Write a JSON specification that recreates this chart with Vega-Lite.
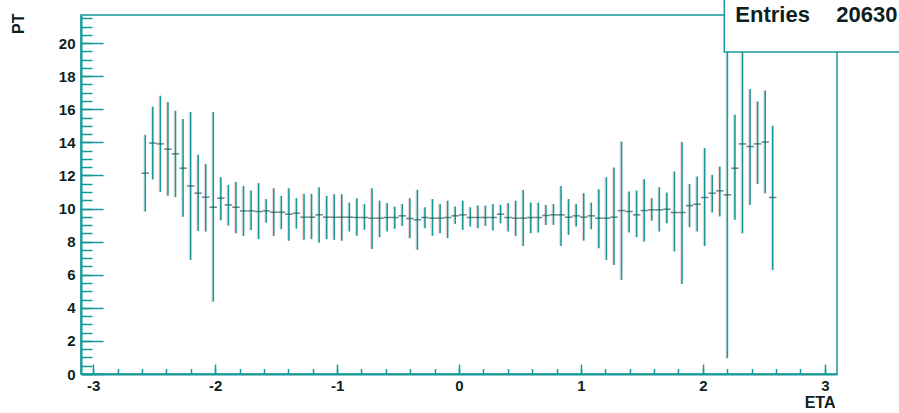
{
  "$schema": "https://vega.github.io/schema/vega-lite/v6.json",
  "width": 756,
  "height": 359,
  "autosize": {"type": "none"},
  "padding": {"left": 81, "top": 15, "right": 62, "bottom": 39},
  "background": "white",
  "config": {"view": {"stroke": "#17999a", "strokeWidth": 1.5}, "font": "Liberation Sans"},
  "datasets": {
    "profile": [
      {"eta": -2.573, "pt": 12.14, "lo": 9.82, "hi": 14.46},
      {"eta": -2.511, "pt": 13.96, "lo": 11.75, "hi": 16.15},
      {"eta": -2.449, "pt": 13.91, "lo": 11.0, "hi": 16.82},
      {"eta": -2.387, "pt": 13.59, "lo": 10.77, "hi": 16.44},
      {"eta": -2.325, "pt": 13.31, "lo": 10.69, "hi": 15.91},
      {"eta": -2.263, "pt": 12.44, "lo": 9.5, "hi": 15.41},
      {"eta": -2.201, "pt": 11.37, "lo": 6.9, "hi": 15.83},
      {"eta": -2.139, "pt": 10.93, "lo": 8.65, "hi": 13.25},
      {"eta": -2.077, "pt": 10.69, "lo": 8.61, "hi": 12.7},
      {"eta": -2.015, "pt": 10.08, "lo": 4.37, "hi": 15.83},
      {"eta": -1.953, "pt": 10.63, "lo": 9.3, "hi": 11.9},
      {"eta": -1.891, "pt": 10.22, "lo": 8.97, "hi": 11.43},
      {"eta": -1.829, "pt": 10.08, "lo": 8.51, "hi": 11.6},
      {"eta": -1.767, "pt": 9.86, "lo": 8.35, "hi": 11.37},
      {"eta": -1.705, "pt": 9.86, "lo": 8.71, "hi": 11.09},
      {"eta": -1.643, "pt": 9.82, "lo": 8.15, "hi": 11.54},
      {"eta": -1.581, "pt": 9.86, "lo": 9.15, "hi": 10.57},
      {"eta": -1.519, "pt": 9.78, "lo": 8.35, "hi": 11.23},
      {"eta": -1.457, "pt": 9.78, "lo": 8.75, "hi": 10.77},
      {"eta": -1.395, "pt": 9.66, "lo": 8.06, "hi": 11.23},
      {"eta": -1.333, "pt": 9.72, "lo": 8.79, "hi": 10.63},
      {"eta": -1.271, "pt": 9.48, "lo": 8.11, "hi": 10.89},
      {"eta": -1.209, "pt": 9.48, "lo": 8.15, "hi": 10.89},
      {"eta": -1.147, "pt": 9.62, "lo": 7.94, "hi": 11.29},
      {"eta": -1.085, "pt": 9.48, "lo": 8.15, "hi": 10.77},
      {"eta": -1.023, "pt": 9.48, "lo": 8.11, "hi": 10.87},
      {"eta": -0.961, "pt": 9.48, "lo": 8.06, "hi": 10.87},
      {"eta": -0.899, "pt": 9.48, "lo": 8.61, "hi": 10.36},
      {"eta": -0.837, "pt": 9.46, "lo": 8.35, "hi": 10.63},
      {"eta": -0.775, "pt": 9.46, "lo": 8.71, "hi": 10.28},
      {"eta": -0.713, "pt": 9.42, "lo": 7.56, "hi": 11.23},
      {"eta": -0.651, "pt": 9.42, "lo": 8.27, "hi": 10.48},
      {"eta": -0.589, "pt": 9.46, "lo": 8.61, "hi": 10.33},
      {"eta": -0.527, "pt": 9.46, "lo": 8.77, "hi": 10.12},
      {"eta": -0.465, "pt": 9.56, "lo": 8.95, "hi": 10.28},
      {"eta": -0.403, "pt": 9.4, "lo": 8.21, "hi": 10.63},
      {"eta": -0.341, "pt": 9.32, "lo": 7.5, "hi": 11.13},
      {"eta": -0.279, "pt": 9.46, "lo": 8.81, "hi": 10.08},
      {"eta": -0.217, "pt": 9.42, "lo": 8.35, "hi": 10.57},
      {"eta": -0.155, "pt": 9.42, "lo": 8.51, "hi": 10.28},
      {"eta": -0.093, "pt": 9.46, "lo": 8.21, "hi": 10.48},
      {"eta": -0.031, "pt": 9.56, "lo": 9.07, "hi": 10.12},
      {"eta": 0.031, "pt": 9.62, "lo": 8.71, "hi": 10.48},
      {"eta": 0.093, "pt": 9.46, "lo": 8.91, "hi": 10.08},
      {"eta": 0.155, "pt": 9.46, "lo": 8.81, "hi": 10.18},
      {"eta": 0.217, "pt": 9.46, "lo": 8.95, "hi": 10.18},
      {"eta": 0.279, "pt": 9.46, "lo": 8.67, "hi": 10.28},
      {"eta": 0.341, "pt": 9.66, "lo": 9.11, "hi": 10.22},
      {"eta": 0.403, "pt": 9.46, "lo": 8.61, "hi": 10.33},
      {"eta": 0.465, "pt": 9.42, "lo": 8.35, "hi": 10.48},
      {"eta": 0.527, "pt": 9.42, "lo": 7.74, "hi": 11.13},
      {"eta": 0.589, "pt": 9.46, "lo": 8.51, "hi": 10.36},
      {"eta": 0.651, "pt": 9.46, "lo": 8.55, "hi": 10.36},
      {"eta": 0.713, "pt": 9.58, "lo": 9.01, "hi": 10.22},
      {"eta": 0.775, "pt": 9.62, "lo": 9.01, "hi": 10.28},
      {"eta": 0.837, "pt": 9.62, "lo": 7.74, "hi": 11.37},
      {"eta": 0.899, "pt": 9.48, "lo": 8.41, "hi": 10.57},
      {"eta": 0.961, "pt": 9.56, "lo": 8.91, "hi": 10.28},
      {"eta": 1.023, "pt": 9.48, "lo": 8.06, "hi": 10.93},
      {"eta": 1.085, "pt": 9.56, "lo": 8.75, "hi": 10.36},
      {"eta": 1.147, "pt": 9.42, "lo": 7.6, "hi": 11.17},
      {"eta": 1.209, "pt": 9.42, "lo": 6.9, "hi": 11.9},
      {"eta": 1.271, "pt": 9.48, "lo": 6.59, "hi": 12.48},
      {"eta": 1.333, "pt": 9.88, "lo": 5.69, "hi": 14.05},
      {"eta": 1.395, "pt": 9.82, "lo": 8.55, "hi": 11.03},
      {"eta": 1.457, "pt": 9.62, "lo": 8.27, "hi": 11.09},
      {"eta": 1.519, "pt": 9.88, "lo": 8.0, "hi": 11.78},
      {"eta": 1.581, "pt": 9.92, "lo": 9.27, "hi": 10.63},
      {"eta": 1.643, "pt": 9.92, "lo": 8.61, "hi": 11.29},
      {"eta": 1.705, "pt": 9.96, "lo": 9.11, "hi": 10.97},
      {"eta": 1.767, "pt": 9.76, "lo": 7.4, "hi": 12.24},
      {"eta": 1.829, "pt": 9.76, "lo": 5.44, "hi": 14.02},
      {"eta": 1.891, "pt": 10.18, "lo": 8.87, "hi": 11.49},
      {"eta": 1.953, "pt": 10.26, "lo": 8.61, "hi": 11.94},
      {"eta": 2.015, "pt": 10.67, "lo": 7.74, "hi": 13.65},
      {"eta": 2.077, "pt": 10.93, "lo": 9.76, "hi": 12.04},
      {"eta": 2.139, "pt": 11.07, "lo": 9.52, "hi": 12.54},
      {"eta": 2.201, "pt": 10.83, "lo": 0.95, "hi": 20.7},
      {"eta": 2.263, "pt": 12.44, "lo": 9.32, "hi": 15.67},
      {"eta": 2.325, "pt": 13.91, "lo": 8.5, "hi": 19.6},
      {"eta": 2.387, "pt": 13.75, "lo": 10.22, "hi": 17.22},
      {"eta": 2.449, "pt": 13.91, "lo": 11.49, "hi": 16.47},
      {"eta": 2.511, "pt": 14.02, "lo": 10.93, "hi": 17.14},
      {"eta": 2.573, "pt": 10.67, "lo": 6.29, "hi": 15.0}
    ],
    "stats": [{"name": "Entries", "value": "20630"}]
  },
  "layer": [
    {
      "data": {"name": "profile"},
      "mark": {"type": "rule", "color": "#f6b3b3", "strokeWidth": 1, "xOffset": -1.4, "opacity": 0.6},
      "encoding": {
        "x": {"field": "eta", "type": "quantitative",
              "scale": {"domain": [-3.1, 3.1], "nice": false, "zero": false},
              "axis": {"orient": "bottom", "values": [-3, -2.8, -2.6, -2.4, -2.2, -2, -1.8, -1.6, -1.4, -1.2, -1, -0.8, -0.6, -0.4, -0.2, 0, 0.2, 0.4, 0.6, 0.8, 1, 1.2, 1.4, 1.6, 1.8, 2, 2.2, 2.4, 2.6, 2.8, 3],
                       "labels": false, "domain": false, "grid": false, "title": null,
                       "tickSize": -5.5, "tickWidth": 1.5, "tickColor": "#17999a"}},
        "y": {"field": "lo", "type": "quantitative",
              "scale": {"domain": [0, 21.7], "nice": false, "zero": false},
              "axis": {"orient": "left", "values": [0, 0.5, 1, 1.5, 2, 2.5, 3, 3.5, 4, 4.5, 5, 5.5, 6, 6.5, 7, 7.5, 8, 8.5, 9, 9.5, 10, 10.5, 11, 11.5, 12, 12.5, 13, 13.5, 14, 14.5, 15, 15.5, 16, 16.5, 17, 17.5, 18, 18.5, 19, 19.5, 20, 20.5, 21, 21.5],
                       "labels": false, "domain": false, "grid": false, "title": null,
                       "tickSize": -11, "tickWidth": 1.5, "tickColor": "#17999a"}},
        "y2": {"field": "hi"}
      }
    },
    {
      "data": {"name": "profile"},
      "mark": {"type": "rule", "color": "#17999a", "strokeWidth": 1.6},
      "encoding": {
        "x": {"field": "eta", "type": "quantitative",
              "axis": {"orient": "bottom", "values": [-3, -2, -1, 0, 1, 2, 3], "ticks": false, "tickSize": 0,
                       "labelExpr": "replace(datum.label, '\u2212', '-')",
                       "labelPadding": 4, "labelFontSize": 15, "labelFontWeight": "bold", "labelColor": "#0d1f1f",
                       "labelFlush": false, "labelOverlap": false, "grid": false,
                       "domainColor": "#17999a", "domainWidth": 2,
                       "title": "ETA", "titleX": 754, "titleY": 33, "titleAlign": "right", "titleBaseline": "alphabetic",
                       "titleFontSize": 16, "titleFontWeight": "bold", "titleColor": "#0d1f1f"}},
        "y": {"field": "lo", "type": "quantitative",
              "axis": {"orient": "left", "values": [0, 2, 4, 6, 8, 10, 12, 14, 16, 18, 20], "ticks": false, "tickSize": 0,
                       "labelPadding": 6, "labelFontSize": 15, "labelFontWeight": "bold", "labelColor": "#0d1f1f",
                       "labelFlush": false, "labelOverlap": false, "grid": false,
                       "domainColor": "#17999a", "domainWidth": 2,
                       "title": "PT", "titleAngle": 270, "titleX": -58, "titleY": -2, "titleAlign": "right", "titleBaseline": "alphabetic",
                       "titleFontSize": 16, "titleFontWeight": "bold", "titleColor": "#0d1f1f"}},
        "y2": {"field": "hi"}
      }
    },
    {
      "data": {"name": "profile"},
      "mark": {"type": "tick", "orient": "horizontal", "size": 7.5, "thickness": 1.5, "color": "#1f5a5a"},
      "encoding": {
        "x": {"field": "eta", "type": "quantitative",
              "axis": {"orient": "bottom", "values": [-3, -2, -1, 0, 1, 2, 3], "labels": false, "domain": false, "grid": false, "title": null,
                       "tickSize": -10, "tickWidth": 1.5, "tickColor": "#17999a"}},
        "y": {"field": "pt", "type": "quantitative",
              "axis": {"orient": "left", "values": [0, 2, 4, 6, 8, 10, 12, 14, 16, 18, 20], "labels": false, "domain": false, "grid": false, "title": null,
                       "tickSize": -22, "tickWidth": 1.5, "tickColor": "#17999a"}}
      }
    },
    {
      "data": {"name": "stats"},
      "mark": {"type": "rect", "fill": "white", "stroke": "#17999a", "strokeWidth": 1.5},
      "encoding": {
        "x": {"datum": 2.176, "type": "quantitative", "axis": null},
        "x2": {"datum": 3.9},
        "y": {"datum": 19.46, "type": "quantitative", "axis": null},
        "y2": {"datum": 23.5}
      }
    },
    {
      "data": {"name": "stats"},
      "mark": {"type": "text", "align": "left", "baseline": "alphabetic", "fontSize": 22, "fontWeight": "bold", "color": "#0d1f1f"},
      "encoding": {
        "x": {"datum": 2.266, "type": "quantitative", "axis": null},
        "y": {"datum": 21.29, "type": "quantitative", "axis": null},
        "text": {"field": "name"}
      }
    },
    {
      "data": {"name": "stats"},
      "mark": {"type": "text", "align": "right", "baseline": "alphabetic", "fontSize": 22, "fontWeight": "bold", "color": "#0d1f1f"},
      "encoding": {
        "x": {"datum": 3.596, "type": "quantitative", "axis": null},
        "y": {"datum": 21.29, "type": "quantitative", "axis": null},
        "text": {"field": "value"}
      }
    }
  ],
  "resolve": {"axis": {"x": "independent", "y": "independent"}}
}
